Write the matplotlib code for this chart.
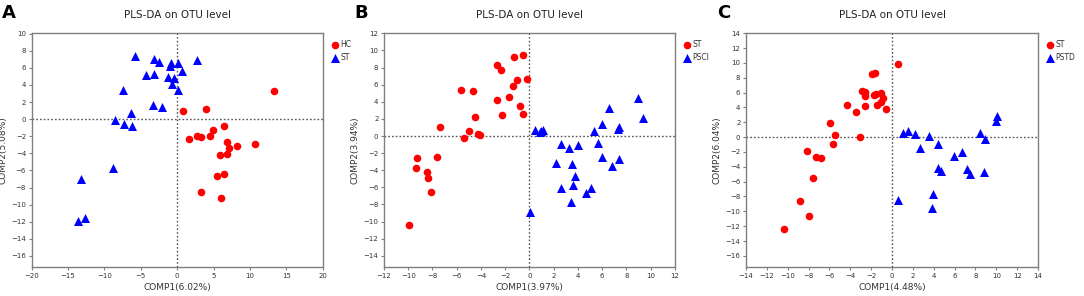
import numpy as np
import matplotlib
matplotlib.use("Agg")
import matplotlib.pyplot as plt

# Panel A: HC vs ST
a_hc_x = [13.36, 0.76, 3.96, 6.48, 4.88, 4.51, 2.77, 3.32, 1.58, 6.80, 7.08, 8.18, 10.70, 5.89, 6.80, 5.48, 6.48, 3.32, 5.98]
a_hc_y = [3.31, 1.00, 1.23, -0.80, -1.31, -1.94, -1.98, -2.13, -2.37, -2.64, -3.43, -3.11, -2.96, -4.25, -4.13, -6.60, -6.44, -8.52, -9.22]
a_st_x = [-5.75, -3.14, -2.50, 2.77, -0.80, -0.99, 0.07, 0.62, -4.33, -3.14, -1.31, -0.48, -0.76, 0.16, -7.40,
          -3.28, -2.13, -6.35, -8.55, -7.31, -6.21, -8.87, -13.17, -12.62, -13.59]
a_st_y = [7.38, 7.07, 6.64, 6.87, 6.60, 6.21, 6.52, 5.58, 5.19, 5.34, 4.91, 4.87, 4.09, 3.39, 3.47,
          1.70, 1.43, 0.76, -0.10, -0.61, -0.80, -5.77, -7.03, -11.53, -11.92]

# Panel B: ST vs PSCI
b_st_x = [-0.51, -1.25, -2.65, -2.35, -1.00, -0.20, -1.39, -5.62, -4.63, -1.69, -2.71, -0.81, -2.24, -0.56,
          -4.52, -7.38, -4.99, -4.27, -4.05, -5.37, -9.31, -7.63, -9.36, -8.45, -8.34, -8.15, -9.91]
b_st_y = [9.49, 9.22, 8.32, 7.73, 6.60, 6.68, 5.81, 5.42, 5.27, 4.52, 4.25, 3.54, 2.49, 2.56,
          2.22, 1.08, 0.53, 0.25, 0.10, -0.22, -2.53, -2.41, -3.74, -4.25, -4.95, -6.52, -10.43]
b_psci_x = [8.98, 9.36, 6.58, 6.01, 7.41, 7.33, 5.32, 0.43, 0.98, 1.09, 0.87, 2.63, 4.03, 3.29, 5.68,
            2.15, 3.50, 6.01, 7.35, 6.78, 3.75, 3.55, 2.56, 4.63, 5.05, 3.39, 0.07]
b_psci_y = [4.44, 2.06, 3.31, 1.39, 1.04, 0.84, 0.53, 0.72, 0.57, 0.76, 0.45, -0.96, -1.08, -1.43, -0.80,
            -3.19, -3.31, -2.49, -2.72, -3.54, -4.72, -5.70, -6.09, -6.60, -6.09, -7.69, -8.83]

# Panel C: ST vs PSTD
c_st_x = [0.54, -1.92, -1.66, -2.88, -2.62, -1.02, -1.76, -1.54, -2.56, -0.83, -1.02, -1.47, -2.56, -0.55,
          -4.28, -3.45, -5.95, -5.50, -3.07, -5.69, -8.12, -7.32, -6.84, -7.61, -8.82, -7.93, -10.39]
c_st_y = [9.81, 8.46, 8.59, 6.25, 6.03, 5.98, 5.67, 5.80, 5.58, 5.22, 4.67, 4.31, 4.18, 3.73,
          4.31, 3.32, 1.88, 0.35, -0.05, -0.87, -1.86, -2.66, -2.75, -5.51, -8.57, -10.64, -12.35]
c_pstd_x = [10.07, 9.97, 8.47, 8.95, 1.08, 1.50, 2.17, 3.58, 4.41, 2.71, 5.91, 6.74, 4.41, 4.70, 7.16,
            7.44, 8.82, 3.96, 3.80, 0.61]
c_pstd_y = [2.83, 2.20, 0.58, -0.32, 0.62, 0.80, 0.40, 0.13, -0.95, -1.40, -2.57, -2.03, -4.15, -4.60, -4.24,
            -4.96, -4.74, -7.71, -9.60, -8.52]

panels = [
    dict(letter="A", xlabel="COMP1(6.02%)", ylabel="COMP2(5.08%)",
         xlim=(-20, 20), xticks=np.arange(-20, 21, 5), ylim=(-17.3, 10.1), yticks=np.arange(-16, 11, 2),
         red=(a_hc_x, a_hc_y, "HC"), blue=(a_st_x, a_st_y, "ST"),
         rect=[0.0292, 0.098, 0.2685, 0.791]),
    dict(letter="B", xlabel="COMP1(3.97%)", ylabel="COMP2(3.94%)",
         xlim=(-12, 12), xticks=np.arange(-12, 13, 2), ylim=(-15.3, 12.05), yticks=np.arange(-14, 13, 2),
         red=(b_st_x, b_st_y, "ST"), blue=(b_psci_x, b_psci_y, "PSCI"),
         rect=[0.3542, 0.098, 0.2685, 0.791]),
    dict(letter="C", xlabel="COMP1(4.48%)", ylabel="COMP2(6.04%)",
         xlim=(-14, 14), xticks=np.arange(-14, 15, 2), ylim=(-17.5, 14.05), yticks=np.arange(-16, 15, 2),
         red=(c_st_x, c_st_y, "ST"), blue=(c_pstd_x, c_pstd_y, "PSTD"),
         rect=[0.6882, 0.098, 0.2694, 0.791]),
]

fig = plt.figure(figsize=(10.84, 2.96), dpi=100)
text_col = "#333333"
spine_col = "#7f7f7f"

for p in panels:
    ax = fig.add_axes(p["rect"])
    rx, ry, rlab = p["red"]
    bx, by, blab = p["blue"]
    ax.axhline(0, color="#555555", linestyle=(0, (1.2, 1.5)), linewidth=1.0, zorder=1)
    ax.axvline(0, color="#555555", linestyle=(0, (1.2, 1.5)), linewidth=1.0, zorder=1)
    ax.scatter(rx, ry, s=30, marker="o", color="#ff0000", linewidths=0, label=rlab, zorder=3)
    ax.scatter(bx, by, s=42, marker="^", color="#0000ff", linewidths=0, label=blab, zorder=3)
    ax.set_xlim(p["xlim"])
    ax.set_ylim(p["ylim"])
    ax.set_xticks(p["xticks"])
    ax.set_yticks(p["yticks"])
    ax.tick_params(labelsize=5, colors=text_col, length=2.5, width=0.8, pad=1.5)
    ax.tick_params(color=spine_col)
    for s in ax.spines.values():
        s.set_color(spine_col)
        s.set_linewidth(1.0)
    ax.set_xlabel(p["xlabel"], fontsize=6.5, color=text_col, labelpad=3)
    ax.set_ylabel(p["ylabel"], fontsize=6.5, color=text_col, labelpad=3)
    ax.set_title("PLS-DA on OTU level", fontsize=7.5, color="#222222", pad=11)
    ax.legend(loc="upper left", bbox_to_anchor=(1.01, 0.99), frameon=False, fontsize=5.5,
              handletextpad=0.1, borderaxespad=0.2, labelspacing=0.5, markerscale=1.0,
              handlelength=1.2, labelcolor=text_col)
    fig.text(p["rect"][0] - 0.027, 0.94, p["letter"], fontsize=13, fontweight="bold", color="black")

fig.savefig("out.png", dpi=100)
